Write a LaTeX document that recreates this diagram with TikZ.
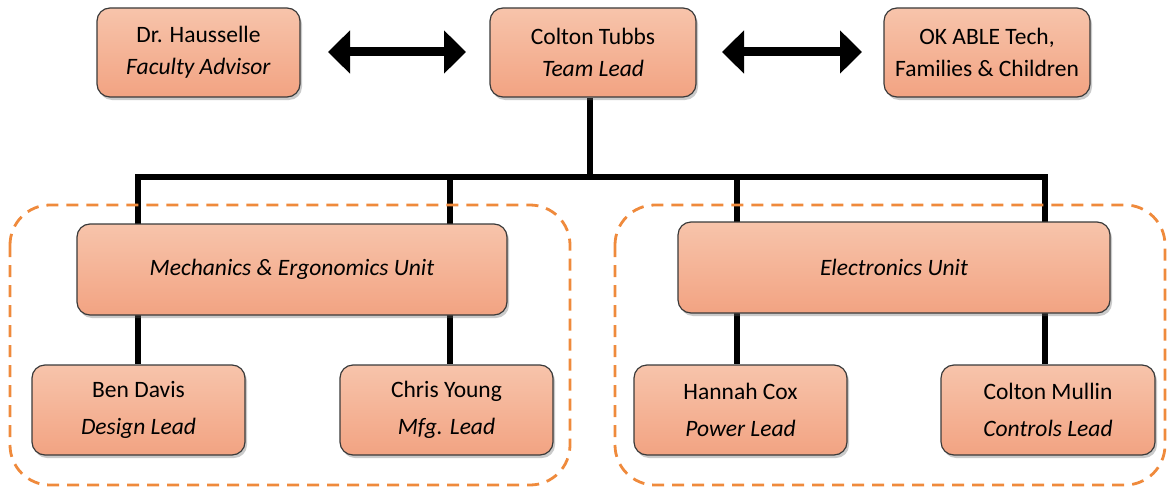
\documentclass[tikz,border=0pt]{standalone}
\usepackage{fontspec}
\setmainfont{Carlito}
\usetikzlibrary{shadows,arrows.meta,backgrounds}
\definecolor{boxtop}{HTML}{F7C4AB}
\definecolor{boxbot}{HTML}{F2A382}
\definecolor{boxline}{HTML}{3A3A3A}
\definecolor{frameor}{HTML}{EF8A3C}
\tikzset{
  box/.style={draw=boxline, line width=1.2pt, rounded corners=13pt,
    top color=boxtop, bottom color=boxbot, align=center,
    font=\fontsize{23.5}{32}\selectfont, text=black,
    drop shadow={shadow xshift=2pt, shadow yshift=-3pt, opacity=0.35, fill=black!60}},
  lowbox/.style={box, font=\fontsize{23.5}{37}\selectfont},
  tree/.style={line width=6.5pt, black, line join=miter},
  dbl/.style={line width=9pt, {Triangle[length=22pt,width=42pt]}-{Triangle[length=22pt,width=42pt]}},
  frame/.style={draw=frameor, line width=2.8pt, dash pattern=on 12pt off 8pt, rounded corners=40pt}
}
\begin{document}
\begin{tikzpicture}[x=1pt,y=-1pt]
\useasboundingbox (0,0) rectangle (1169,487);
\node[box, minimum width=203pt, minimum height=89pt] (dr) at (198.5,52.5) {Dr. Hausselle\\\textit{Faculty Advisor}};
\node[box, minimum width=206pt, minimum height=89pt] (tubbs) at (593,52.5) {Colton Tubbs\\\textit{Team Lead}};
\node[box, minimum width=206pt, minimum height=89pt] (ok) at (987,52.5) {OK ABLE Tech,\\Families \& Children};
\node[box, minimum width=430pt, minimum height=91pt] (mech) at (292,269.5) {\textit{Mechanics \& Ergonomics Unit}};
\node[box, minimum width=432pt, minimum height=91pt] (elec) at (894,267.5) {\textit{Electronics Unit}};
\node[lowbox, minimum width=213pt, minimum height=90pt] (ben) at (138.5,410) {Ben Davis\\\textit{Design Lead}};
\node[lowbox, minimum width=213pt, minimum height=90pt] (chris) at (446.5,410) {Chris Young\\\textit{Mfg. Lead}};
\node[lowbox, minimum width=213pt, minimum height=90pt] (hannah) at (740.5,410) {Hannah Cox\\\textit{Power Lead}};
\node[lowbox, minimum width=214pt, minimum height=90pt] (mullin) at (1048,410) {Colton Mullin\\\textit{Controls Lead}};
\coordinate (bus) at (590,177);
\coordinate (b1) at (138,177);
\coordinate (b2) at (450,177);
\coordinate (b3) at (737,177);
\coordinate (b4) at (1045,177);
\begin{pgfonlayer}{background}
\draw[tree] (tubbs.south -| bus) -- (bus);
\draw[tree] (b1 |- ben.north) -- (b1) -- (b4) -- (b4 |- mullin.north);
\draw[tree] (b2) -- (b2 |- chris.north);
\draw[tree] (b3) -- (b3 |- hannah.north);
\end{pgfonlayer}
\draw[dbl] (328,52) -- (466,52);
\draw[dbl] (722,52) -- (862,52);
\coordinate (f1a) at (10,205);
\coordinate (f1b) at (570,485);
\coordinate (f2a) at (615,205);
\coordinate (f2b) at (1165,485);
\draw[frame] (f1a) rectangle (f1b);
\draw[frame] (f2a) rectangle (f2b);
\end{tikzpicture}
\end{document}
